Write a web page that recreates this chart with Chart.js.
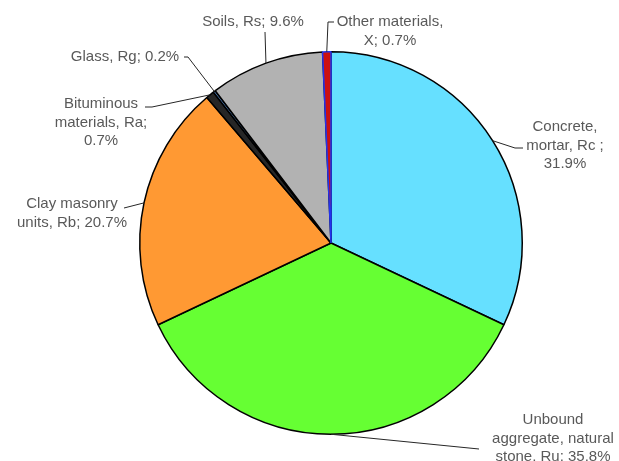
<!DOCTYPE html>
<html>
<head>
<meta charset="utf-8">
<script src="https://cdn.jsdelivr.net/npm/chart.js@4"></script>
<style>
    html, body { margin: 0; padding: 0; background: #ffffff; }
    #wrap { width: 619px; height: 461px; }
</style>
</head>
<body>
<div id="wrap"><canvas id="camembert" width="619" height="461"></canvas></div>
<script>
// ==========================================
// DONNÉES
// ==========================================

const materiaux = ["Concrete, mortar, Rc", "Unbound aggregate, natural stone, Ru", "Clay masonry units, Rb",
    "Bituminous materials, Ra", "Glass, Rg", "Soils, Rs", "Other materials, X"];

const pourcentages = [31.9, 35.8, 20.7, 0.7, 0.2, 9.6, 0.7];

const etiquettes = [
    ["Concrete,", "mortar, Rc ;", "31.9%"],
    ["Unbound", "aggregate, natural", "stone, Ru; 35.8%"],
    ["Clay masonry", "units, Rb; 20.7%"],
    ["Bituminous", "materials, Ra;", "0.7%"],
    ["Glass, Rg; 0.2%"],
    ["Soils, Rs; 9.6%"],
    ["Other materials,", "X; 0.7%"]
];

const couleurs = ["#66e0ff", "#66ff33", "#ff9933", "#262626", "#4f81bd", "#b2b2b2", "#cc1010"];
const bordures = ["#000000", "#000000", "#000000", "#000000", "#000000", "#000000", "#2233ee"];

// position des textes (centre x, y première ligne) et coudes des traits de rappel
const placement = [
    { x: 565, y: 127, coude: [[515, 148], [523, 148]] },
    { x: 553, y: 420, coude: [[479, 449]] },
    { x: 72,  y: 204, coude: [[124, 208]] },
    { x: 101, y: 104, coude: [[152, 107], [145, 107]] },
    { x: 125, y: 57,  coude: [[188, 57], [184, 57]] },
    { x: 253, y: 22,  coude: [[265, 32]] },
    { x: 390, y: 22,  coude: [[328, 22], [334, 22]] }
];

// ==========================================
// ÉTIQUETTES AVEC TRAITS DE RAPPEL
// ==========================================

const pluginEtiquettes = {
    id: "etiquettes",
    afterDraw(chart) {
        const ctx = chart.ctx;
        const arcs = chart.getDatasetMeta(0).data;
        ctx.save();
        ctx.font = "15px 'Liberation Sans', Arial, sans-serif";
        ctx.fillStyle = "#595959";
        ctx.textAlign = "center";
        ctx.textBaseline = "middle";
        ctx.strokeStyle = "#262626";
        ctx.lineWidth = 1;

        arcs.forEach((arc, i) => {
            const p = arc.getProps(["x", "y", "startAngle", "endAngle", "outerRadius"], true);
            const milieu = (p.startAngle + p.endAngle) / 2;
            const ax = p.x + Math.cos(milieu) * p.outerRadius;
            const ay = p.y + Math.sin(milieu) * p.outerRadius;

            ctx.beginPath();
            ctx.moveTo(ax, ay);
            placement[i].coude.forEach(pt => ctx.lineTo(pt[0], pt[1]));
            ctx.stroke();

            etiquettes[i].forEach((ligne, j) => {
                ctx.fillText(ligne, placement[i].x, placement[i].y + j * 18.5);
            });
        });
        ctx.restore();
    }
};

// ==========================================
// GRAPHIQUE
// ==========================================

new Chart(document.getElementById("camembert"), {
    type: "pie",
    data: {
        labels: materiaux,
        datasets: [{
            data: pourcentages,
            backgroundColor: couleurs,
            borderColor: bordures,
            borderWidth: 1.5
        }]
    },
    options: {
        responsive: false,
        animation: false,
        layout: {
            padding: { top: 51, bottom: 26, left: 139, right: 96 }
        },
        plugins: {
            legend: { display: false },
            tooltip: { enabled: false }
        }
    },
    plugins: [pluginEtiquettes]
});
</script>
</body>
</html>
